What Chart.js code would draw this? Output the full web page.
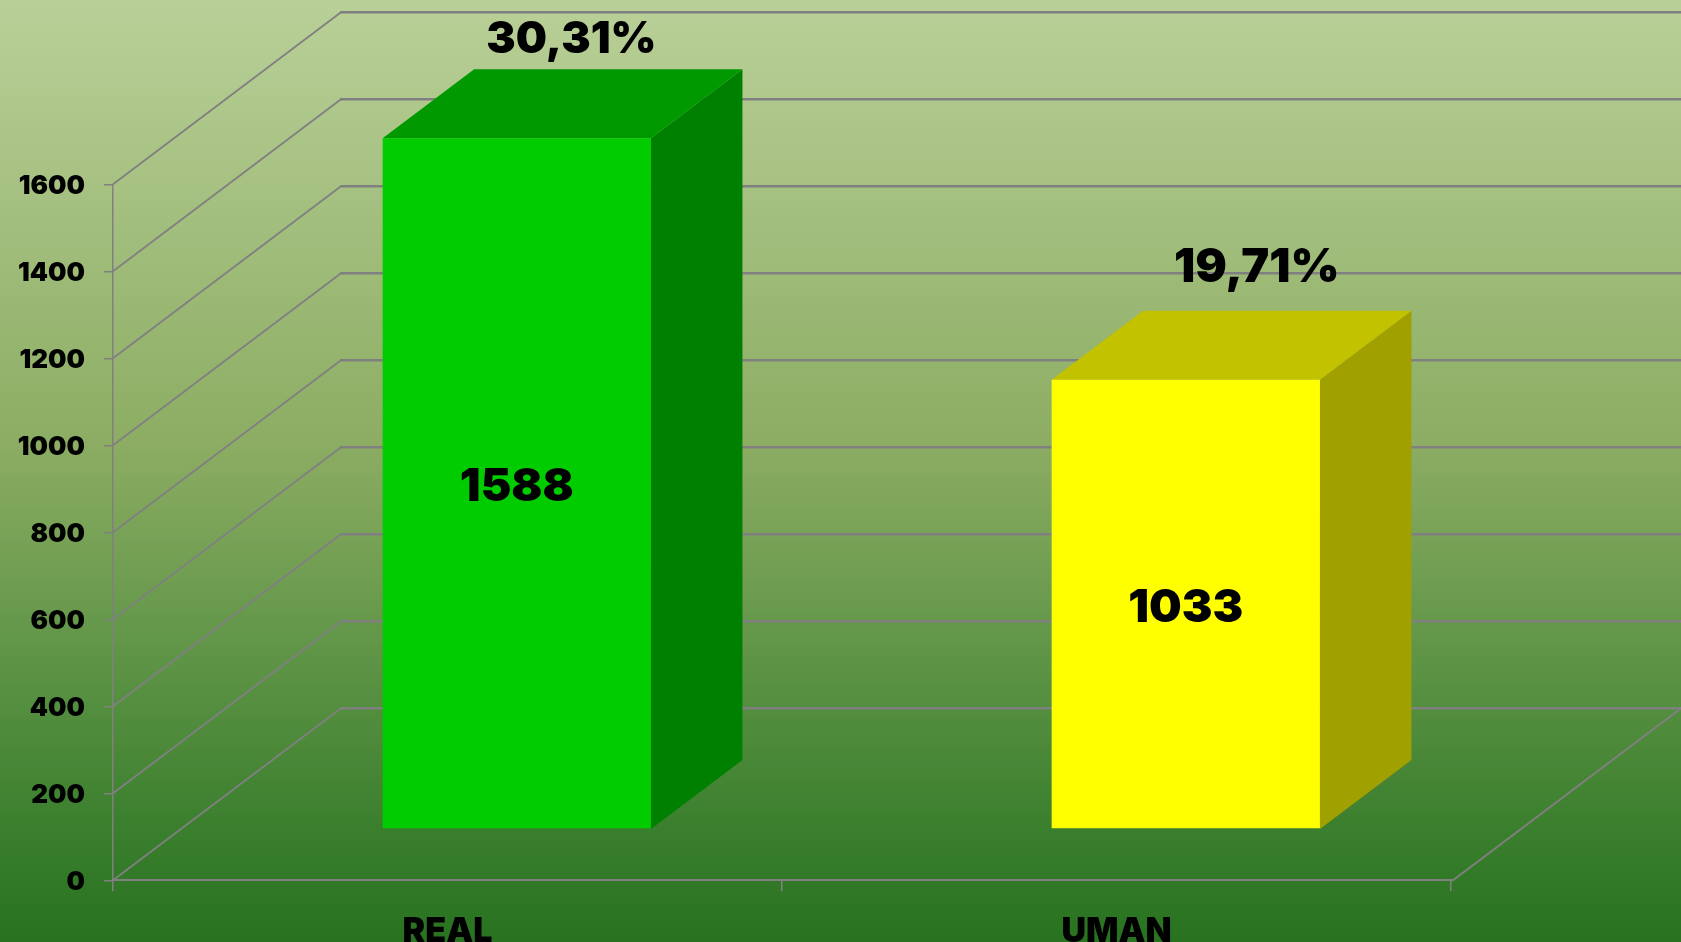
<!DOCTYPE html>
<html>
<head>
<meta charset="utf-8">
<script src="https://cdn.jsdelivr.net/npm/chart.js@4"></script>
<style>
html,body{margin:0;padding:0;background:#2a7222;overflow:hidden}
canvas{display:block}
</style>
</head>
<body>
<canvas id="c" width="1681" height="942"></canvas>
<script>
const categories = ["REAL", "UMAN"];
const values = [1588, 1033];
const percentLabels = ["30,31%", "19,71%"];
const yTicksMax = 1600;
const yTicksStep = 200;

const frontColors = ["#00CC00", "#FFFF00"];
const topColors = ["#009900", "#C2C200"];
const sideColors = ["#008000", "#A0A000"];
const gridColor = "#808080";
const fontFamily = "Inter, 'Liberation Sans', sans-serif";

// oblique projection of the 3D box
const DEPTH = {dx: 228, dy: 172, barX: 69.3, barY: 51.3, barDx: 91.5, barDy: 69};
const PCT_OFFSET = [{x: 54.6, base: 53, size: 44}, {x: 71, base: 281.7, size: 47}];

const threeD = {
  id: "threeD",
  beforeDraw(chart) {
    const {ctx, width, height} = chart;
    const g = ctx.createLinearGradient(0, 0, 0, height);
    g.addColorStop(0, "#b9d098");
    g.addColorStop(0.47, "#8cad63");
    g.addColorStop(0.68, "#629649");
    g.addColorStop(0.88, "#3a7f2d");
    g.addColorStop(1, "#287220");
    ctx.save();
    ctx.fillStyle = g;
    ctx.fillRect(0, 0, width, height);
    ctx.restore();
  },
  beforeDatasetsDraw(chart) {
    const {ctx, chartArea: a, scales: {y}} = chart;
    ctx.save();
    ctx.strokeStyle = gridColor;
    y.ticks.forEach(t => {
      const py = y.getPixelForValue(t.value);
      ctx.lineWidth = 1.8;
      ctx.beginPath();
      ctx.moveTo(a.left, py);
      ctx.lineTo(a.left + DEPTH.dx, py - DEPTH.dy);
      ctx.stroke();
      ctx.lineWidth = 2.4;
      ctx.beginPath();
      ctx.moveTo(a.left + DEPTH.dx - 1, py - DEPTH.dy);
      ctx.lineTo(chart.width, py - DEPTH.dy);
      ctx.stroke();
    });
    // floor right edge
    const by = y.getPixelForValue(0);
    ctx.lineWidth = 1.8;
    ctx.beginPath();
    ctx.moveTo(a.right + 2, by);
    ctx.lineTo(a.right + 2 + DEPTH.dx, by - DEPTH.dy);
    ctx.stroke();
    ctx.lineWidth = 2;
    ctx.beginPath();
    ctx.moveTo(a.right, by);
    ctx.lineTo(a.right + 2, by);
    ctx.stroke();
    ctx.restore();
  },
  beforeDatasetDraw(chart, args) {
    const {ctx, scales: {y}} = chart;
    const ox = DEPTH.barX, oy = DEPTH.barY, bx = DEPTH.barDx, by = DEPTH.barDy;
    args.meta.data.forEach((bar, i) => {
      const l = bar.x - bar.width / 2 + ox, r = bar.x + bar.width / 2 + ox;
      const t = bar.y - oy, b = y.getPixelForValue(0) - oy;
      ctx.fillStyle = sideColors[i];
      ctx.beginPath();
      ctx.moveTo(r, t); ctx.lineTo(r + bx, t - by); ctx.lineTo(r + bx, b - by); ctx.lineTo(r, b);
      ctx.closePath(); ctx.fill();
      ctx.fillStyle = topColors[i];
      ctx.beginPath();
      ctx.moveTo(l, t); ctx.lineTo(l + bx, t - by); ctx.lineTo(r + bx, t - by); ctx.lineTo(r, t);
      ctx.closePath(); ctx.fill();
    });
    ctx.save();
    ctx.translate(ox, -oy);
  },
  afterDatasetDraw(chart) {
    chart.ctx.restore();
  },
  afterDatasetsDraw(chart) {
    const {ctx, scales: {y}} = chart;
    const meta = chart.getDatasetMeta(0);
    ctx.save();
    ctx.fillStyle = "#000";
    ctx.textAlign = "center";
    ctx.textBaseline = "alphabetic";
    meta.data.forEach((bar, i) => {
      const base = y.getPixelForValue(0);
      ctx.font = "900 46px " + fontFamily;
      ctx.fillText(String(values[i]), bar.x + DEPTH.barX, (bar.y + base) / 2 - DEPTH.barY + 17.5);
      ctx.font = "900 " + PCT_OFFSET[i].size + "px " + fontFamily;
      ctx.fillText(percentLabels[i], bar.x + DEPTH.barX + PCT_OFFSET[i].x, PCT_OFFSET[i].base);
    });
    ctx.restore();
  }
};

new Chart(document.getElementById("c"), {
  type: "bar",
  data: {
    labels: categories,
    datasets: [{
      data: values,
      backgroundColor: frontColors,
      borderWidth: 0,
      barPercentage: 0.401,
      categoryPercentage: 1,
      clip: false
    }]
  },
  options: {
    responsive: false,
    animation: false,
    layout: {padding: {top: 184.3, right: 230, left: 0, bottom: 0}},
    plugins: {legend: {display: false}, tooltip: {enabled: false}},
    scales: {
      y: {
        min: 0,
        max: yTicksMax,
        afterFit(s) { s.width = 113; },
        ticks: {
          stepSize: yTicksStep,
          padding: 19,
          labelOffset: 2,
          color: "#000",
          callback: v => String(v),
          font: {family: fontFamily, size: 26, weight: "900"}
        },
        grid: {drawOnChartArea: false, drawTicks: true, tickLength: 9, color: gridColor, lineWidth: 1.5},
        border: {display: true, color: gridColor, width: 1.5}
      },
      x: {
        afterFit(s) { s.height = 61.7; },
        ticks: {
          padding: 20,
          color: "#000",
          maxRotation: 0,
          font: {family: fontFamily, size: 34, weight: "900"}
        },
        grid: {drawOnChartArea: false, drawTicks: true, tickLength: 11, color: gridColor, lineWidth: 1.5},
        border: {display: true, color: gridColor, width: 2}
      }
    }
  },
  plugins: [threeD]
});
</script>
</body>
</html>
